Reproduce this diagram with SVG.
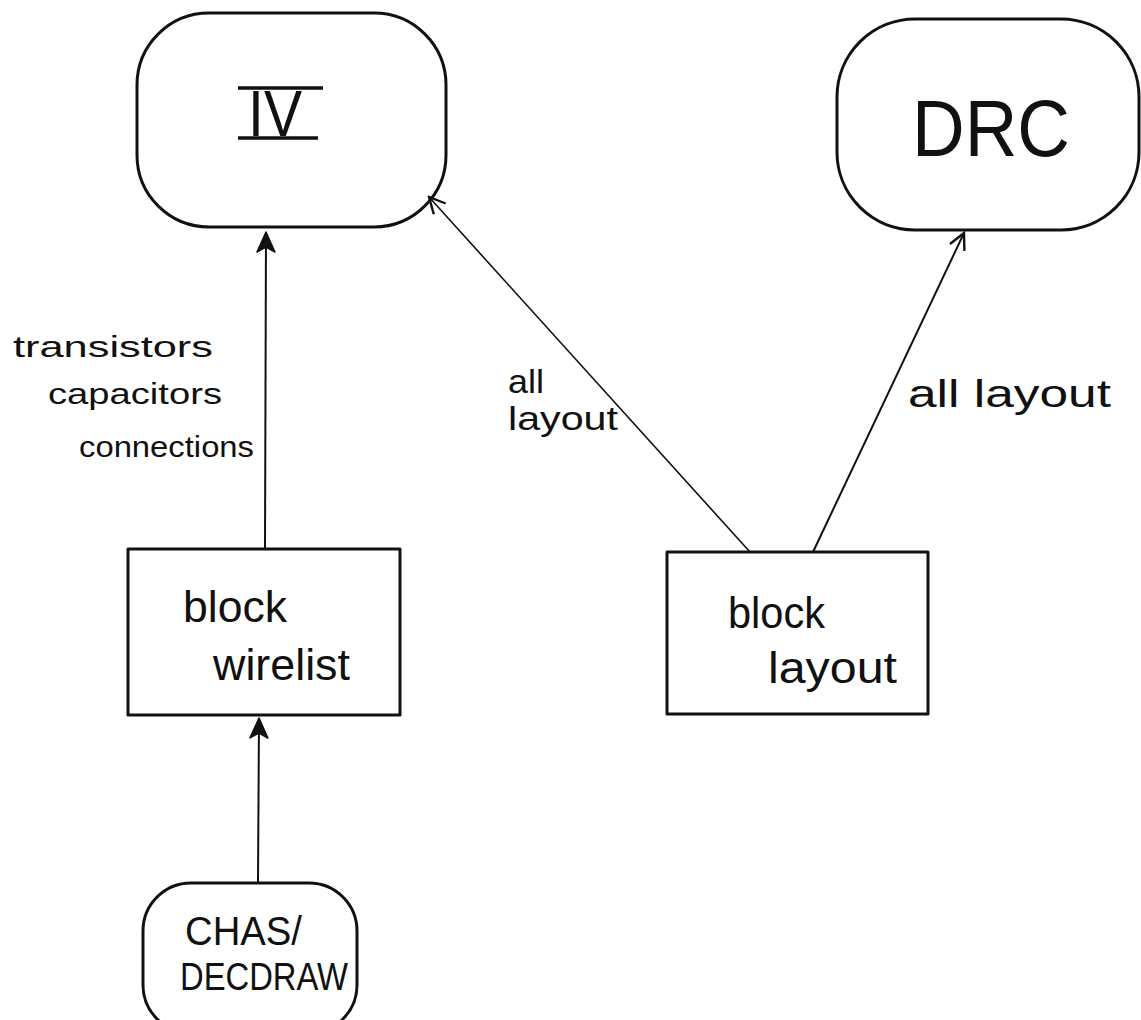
<svg xmlns="http://www.w3.org/2000/svg" width="1141" height="1020" viewBox="0 0 1141 1020">
  <style>
    .box { fill: none; stroke: #111; stroke-width: 3; stroke-linejoin: round; }
    .lbl { font-family: "Liberation Sans", "DejaVu Sans", sans-serif; fill: #111; }
    .edge { fill: none; stroke: #111; stroke-width: 2; }
    .thin { stroke-width: 1.6; }
  </style>
  <defs>
    <marker id="head" viewBox="0 0 20 20" refX="18" refY="10" markerWidth="20" markerHeight="20" markerUnits="userSpaceOnUse" orient="auto">
      <path d="M2,2 L18,10 L2,18" fill="none" stroke="#111" stroke-width="2.4" stroke-linejoin="miter"/>
    </marker>
    <marker id="bold" viewBox="0 0 24 24" refX="22" refY="12" markerWidth="24" markerHeight="24" markerUnits="userSpaceOnUse" orient="auto">
      <path d="M2,3 L22,12 L2,21 L7,12 Z" fill="#111" stroke="#111" stroke-width="1.5" stroke-linejoin="round"/>
    </marker>
  </defs>
  <rect width="1141" height="1020" fill="#fff"/>

  <g id="connectors">
    <line class="edge" x1="265" y1="550" x2="266" y2="232" marker-end="url(#bold)"/>
    <line class="edge thin" x1="750" y1="552" x2="429" y2="197" marker-end="url(#head)"/>
    <line class="edge" x1="813" y1="552" x2="964" y2="233" marker-end="url(#head)"/>
    <line class="edge" x1="258" y1="882" x2="259" y2="718" marker-end="url(#bold)"/>
    <text class="lbl" x="13" y="357" font-size="30" textLength="200" lengthAdjust="spacingAndGlyphs">transistors</text>
    <text class="lbl" x="48" y="404" font-size="30" textLength="174" lengthAdjust="spacingAndGlyphs">capacitors</text>
    <text class="lbl" x="79" y="457" font-size="30" textLength="175" lengthAdjust="spacingAndGlyphs">connections</text>
    <text class="lbl" x="508" y="393" font-size="34" textLength="36" lengthAdjust="spacingAndGlyphs">all</text>
    <text class="lbl" x="508" y="430" font-size="34" textLength="110" lengthAdjust="spacingAndGlyphs">layout</text>
    <text class="lbl" x="908" y="407" font-size="38" textLength="203" lengthAdjust="spacingAndGlyphs">all layout</text>
  </g>

  <g id="node-iv">
    <rect class="box" x="137" y="13" width="309" height="214" rx="72" ry="72"/>
    <line x1="238" y1="88" x2="323" y2="88" stroke="#111" stroke-width="3.5"/>
    <line x1="238" y1="138" x2="318" y2="138" stroke="#111" stroke-width="3.5"/>
    <text class="lbl" x="248" y="136" font-size="64" textLength="54" lengthAdjust="spacingAndGlyphs">IV</text>
  </g>

  <g id="node-drc">
    <rect class="box" x="837" y="19" width="302" height="211" rx="78" ry="78"/>
    <text class="lbl" x="912" y="156" font-size="80" textLength="158" lengthAdjust="spacingAndGlyphs">DRC</text>
  </g>

  <g id="node-wirelist">
    <rect class="box" x="128" y="549" width="272" height="166"/>
    <text class="lbl" x="183" y="622" font-size="44" textLength="104" lengthAdjust="spacingAndGlyphs">block</text>
    <text class="lbl" x="213" y="680" font-size="44" textLength="137" lengthAdjust="spacingAndGlyphs">wirelist</text>
  </g>

  <g id="node-layout">
    <rect class="box" x="667" y="552" width="261" height="162"/>
    <text class="lbl" x="728" y="628" font-size="44" textLength="97" lengthAdjust="spacingAndGlyphs">block</text>
    <text class="lbl" x="768" y="683" font-size="44" textLength="129" lengthAdjust="spacingAndGlyphs">layout</text>
  </g>

  <g id="node-chas">
    <rect class="box" x="143" y="883" width="214" height="150" rx="48" ry="48"/>
    <text class="lbl" x="185" y="945" font-size="40" textLength="117" lengthAdjust="spacingAndGlyphs">CHAS/</text>
    <text class="lbl" x="180" y="990" font-size="38" textLength="168" lengthAdjust="spacingAndGlyphs">DECDRAW</text>
  </g>
</svg>
